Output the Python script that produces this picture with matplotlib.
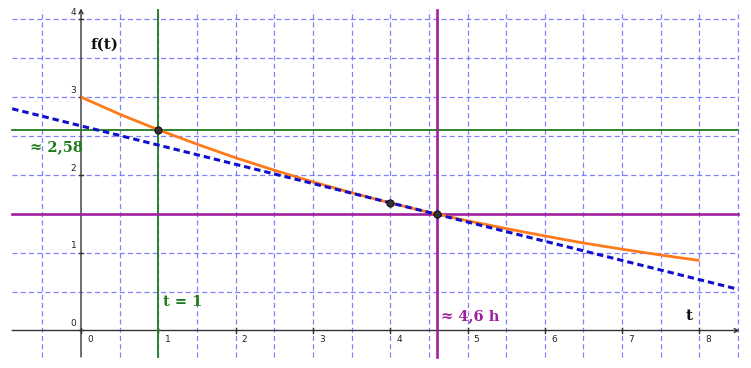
import matplotlib.pyplot as plt
import numpy as np

# orange curve f(t), read at half-hour steps
t_vals = [0, 0.5, 1, 1.5, 2, 2.5, 3, 3.5, 4, 4.5, 5, 5.5, 6, 6.5, 7, 7.5, 8]
f_vals = [3.0, 2.78, 2.58, 2.395, 2.22, 2.06, 1.91, 1.77, 1.64, 1.52,
          1.41, 1.31, 1.215, 1.125, 1.045, 0.97, 0.90]

# dashed blue tangent line (end points)
tangent_t = [-0.89, 8.5]
tangent_f = [2.85, 0.53]

# marked points
pts_t = [1, 4, 4.6]
pts_f = [2.58, 1.64, 1.5]

green_t = 1
green_f = 2.58
purple_t = 4.6
purple_f = 1.5

x_ticks = [0, 1, 2, 3, 4, 5, 6, 7, 8]
y_ticks = [0, 1, 2, 3, 4]

# drawing area of the graphics view
xa, xb = -0.89, 8.5
ya, yb = -0.34, 4.12

green = '#1e7b1e'
purple = '#a020a0'
orange = '#ff7a1a'
blue = '#1010cc'
grid_c = '#6b6bff'

fig = plt.figure(figsize=(7.51, 3.68), dpi=100)
ax = fig.add_axes([0, 0, 1, 1])
ax.set_xlim(-1.048, 8.667)
ax.set_ylim(-0.482, 4.248)
ax.axis('off')

# grid
for gx in np.arange(-0.5, 8.51, 0.5):
    if gx == 0:
        continue
    ax.plot([gx, gx], [ya, yb], color=grid_c, lw=0.9, ls=(0, (4, 2.6)), alpha=0.85, zorder=1)
for gy in np.arange(0.5, 4.01, 0.5):
    ax.plot([xa, xb], [gy, gy], color=grid_c, lw=0.9, ls=(0, (4, 2.6)), alpha=0.85, zorder=1)

# axes
ax.annotate('', xy=(xb + 0.02, 0), xytext=(xa, 0),
            arrowprops=dict(arrowstyle='->', color='#333333', lw=1, shrinkA=0, shrinkB=0,
                            mutation_scale=7), zorder=2)
ax.annotate('', xy=(0, yb + 0.02), xytext=(0, ya),
            arrowprops=dict(arrowstyle='->', color='#333333', lw=1, shrinkA=0, shrinkB=0,
                            mutation_scale=7), zorder=2)
for xt in x_ticks:
    ax.plot([xt, xt], [-0.03, 0.03], color='#333333', lw=1, zorder=2)
    ax.text(xt + 0.08, -0.06, str(xt), fontsize=6.5, ha='left', va='top', color='#222222')
for yt in y_ticks:
    ax.plot([-0.03, 0.03], [yt, yt], color='#333333', lw=1, zorder=2)
    ax.text(-0.06, yt + 0.03, str(yt), fontsize=6.5, ha='right', va='bottom', color='#222222')

# helper lines
ax.plot([green_t, green_t], [ya, yb], color=green, lw=1.3, zorder=3)
ax.plot([xa, xb], [green_f, green_f], color=green, lw=1.3, zorder=3)
ax.plot([purple_t, purple_t], [ya, yb], color=purple, lw=1.9, zorder=3)
ax.plot([xa, xb], [purple_f, purple_f], color=purple, lw=1.9, zorder=3)

# curve and tangent
ax.plot(t_vals, f_vals, color=orange, lw=2, zorder=4, solid_capstyle='butt')
ax.plot(tangent_t, tangent_f, color=blue, lw=2.2, ls=(0, (2.1, 1.3)), zorder=5)

ax.scatter(pts_t, pts_f, s=28, color='#333333', edgecolor='black', linewidth=0.6, zorder=6)

# labels
sf = dict(family='DejaVu Serif', weight='bold')
ax.text(0.12, 3.68, 'f(t)', fontsize=11, color='#111111', ha='left', va='center', **sf)
ax.text(-0.66, 2.36, '≈ 2,58', fontsize=10.5, color=green, ha='left', va='center', **sf)
ax.text(1.06, 0.37, 't = 1', fontsize=10.5, color=green, ha='left', va='center', **sf)
ax.text(4.66, 0.19, '≈ 4,6 h', fontsize=10.5, color=purple, ha='left', va='center', **sf)
ax.text(7.82, 0.19, 't', fontsize=11, color='#111111', ha='left', va='center', **sf)

fig.savefig('out.png', dpi=100)
